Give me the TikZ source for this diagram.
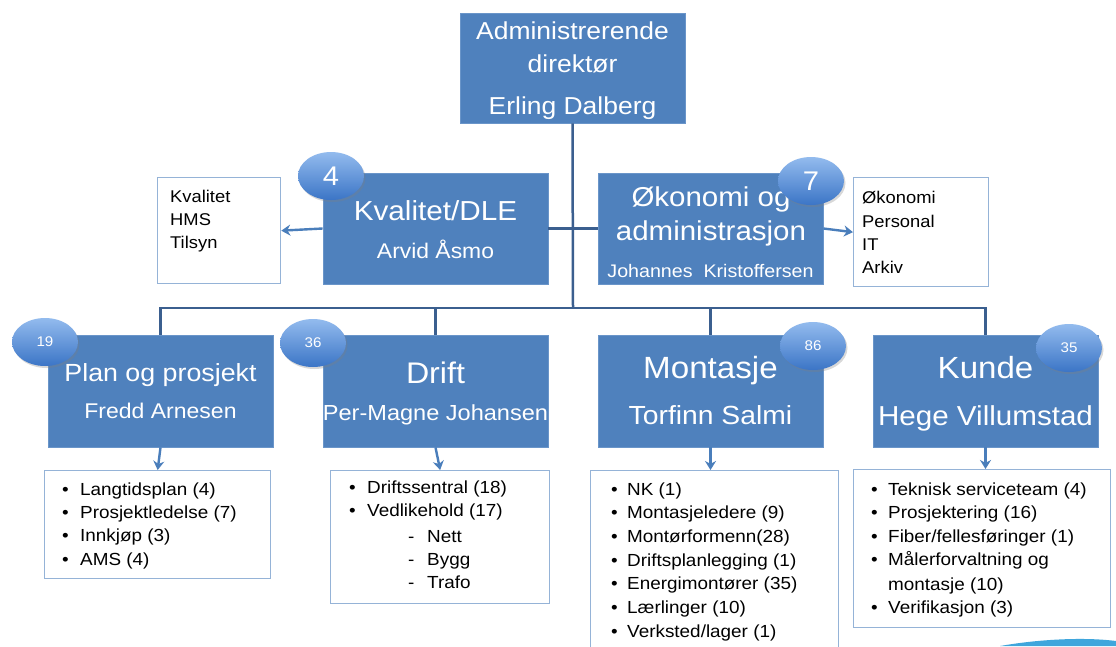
\documentclass[tikz,border=0pt]{standalone}
\usepackage{fontspec}
\setmainfont{Liberation Sans}[FakeStretch=1.08]
\usetikzlibrary{arrows.meta,shadows,shapes.geometric,calc}
\definecolor{boxblue}{HTML}{4F81BD}
\definecolor{boxedge}{HTML}{6A95C9}
\definecolor{linedark}{HTML}{3B5F8F}
\definecolor{arrowblue}{HTML}{4A7EBB}
\definecolor{listedge}{HTML}{95B3D7}
\definecolor{balltop}{HTML}{93BBEE}
\definecolor{ballbot}{HTML}{3B75C6}
\definecolor{swoosh}{HTML}{3FA6DC}
\newcommand\fs[1]{\fontsize{#1}{#1}\selectfont}
\begin{document}
\begin{tikzpicture}[x=1pt,y=-1pt,
  orgbox/.style={draw=boxedge,line width=0.8pt,fill=boxblue,minimum width=225pt,minimum height=111pt,inner sep=0pt},
  wt/.style={text=white,inner sep=0pt,anchor=base},
  bt/.style={text=black,inner sep=0pt,anchor=base west,font=\fs{17.5}},
  smt/.style={text=black,inner sep=0pt,anchor=base west,font=\fs{17}},
  listbox/.style={draw=listedge,line width=1.3pt,fill=white,inner sep=0pt,anchor=north west},
  ball/.style={ellipse,minimum width=66pt,minimum height=48pt,inner sep=0pt,top color=balltop,bottom color=ballbot,draw=none,text=white,drop shadow={opacity=0.3,shadow xshift=1.5pt,shadow yshift=-2pt}},
  conn/.style={draw=linedark,line width=2.5pt},
  arr/.style={draw=arrowblue,line width=2.4pt,-{Stealth[length=9pt,width=11pt]}},
]
\useasboundingbox (0,0) rectangle (1116,646);
\fill[white] (0,0) rectangle (1116,646);

% coordinates of bus
\coordinate (busM) at (573,308);

% boxes
\node[orgbox,minimum width=225pt,minimum height=110pt] (top) at (572.5,68) {};
\node[orgbox] (kval) at (435.5,228.5) {};
\node[orgbox] (oko) at (710.5,228.5) {};
\node[orgbox,minimum height=112pt] (plan) at (160.5,391) {};
\node[orgbox,minimum height=112pt] (drift) at (435.5,391) {};
\node[orgbox,minimum height=112pt] (mont) at (710.5,391) {};
\node[orgbox,minimum height=112pt] (kunde) at (985.5,391) {};

% connectors
\draw[conn] (top.south) -- (busM);
\draw[conn] (kval.east) -- (oko.west);
\draw[conn] (plan.north) |- (busM) -| (kunde.north);
\draw[conn] (drift.north) -- (drift.north |- busM);
\draw[conn] (mont.north) -- (mont.north |- busM);

% side lists
\node[listbox,minimum width=123pt,minimum height=106pt] (kvlist) at (157,177) {};
\node[listbox,minimum width=135pt,minimum height=109pt] (okolist) at (853,177) {};
\draw[arr] (kval.west) -- (kvlist.east);
\draw[arr] (oko.east) -- (okolist.west);

% lower lists
\node[listbox,minimum width=226pt,minimum height=108pt] (pllist) at (44,470) {};
\node[listbox,minimum width=219pt,minimum height=133pt] (drlist) at (330,470) {};
\node[listbox,minimum width=248pt,minimum height=200pt] (molist) at (590,470) {};
\node[listbox,minimum width=257pt,minimum height=158pt] (kulist) at (853,469) {};
\draw[arr] (plan.south) -- (pllist.north);
\draw[arr] (drift.south) -- (drlist.north);
\draw[arr] (mont.south) -- (mont.south |- molist.north);
\draw[arr] (kunde.south) -- (kunde.south |- kulist.north);

% box texts
\node[wt,font=\fs{24.5}] (t1) at (572.5,39) {Administrerende};
\node[wt,font=\fs{24.5}] (t2) at (572.5,72) {direktør};
\node[wt,font=\fs{24.5}] (t3) at (572.5,114) {Erling Dalberg};

\node[wt,font=\fs{27.5}] (k1) at (435.5,220) {Kvalitet/DLE};
\node[wt,font=\fs{21.2}] (k2) at (435.5,258) {Arvid Åsmo};

\node[wt,font=\fs{27.3}] (o1) at (711,206) {Økonomi og};
\node[wt,font=\fs{27.3}] (o2) at (711,240) {administrasjon};
\node[wt,font=\fs{18.2}] (o3) at (710.5,277) {Johannes\ \ Kristoffersen};

\node[wt,font=\fs{24.8}] (p1) at (160.5,381) {Plan og prosjekt};
\node[wt,font=\fs{21.3}] (p2) at (160.5,418) {Fredd Arnesen};
\node[wt,font=\fs{29.8}] (d1) at (435.5,383) {Drift};
\node[wt,font=\fs{21.8}] (d2) at (435.5,420) {Per-Magne Johansen};
\node[wt,font=\fs{30.7}] (m1) at (710.5,378) {Montasje};
\node[wt,font=\fs{26.2}] (m2) at (710.5,424) {Torfinn Salmi};
\node[wt,font=\fs{30.6}] (u1) at (985.5,378) {Kunde};
\node[wt,font=\fs{27.4}] (u2) at (985.5,425) {Hege Villumstad};

% number balls
\node[ball,font=\fs{27}] (b4) at (331,176) {4};
\node[ball,font=\fs{27}] (b7) at (811,181) {7};
\node[ball,font=\fs{14}] (b19) at (45,342) {19};
\node[ball,font=\fs{14}] (b36) at (313,343) {36};
\node[ball,font=\fs{14}] (b86) at (813,346) {86};
\node[ball,font=\fs{14}] (b35) at (1069,348) {35};

% side list texts
\node[smt] (s1) at (170,202) {Kvalitet};
\node[smt] (s2) at (170,225) {HMS};
\node[smt] (s3) at (170,248) {Tilsyn};
\node[smt] (r1) at (862,203) {Økonomi};
\node[smt] (r2) at (862,227) {Personal};
\node[smt] (r3) at (862,250) {IT};
\node[smt] (r4) at (862,273) {Arkiv};

% lower list texts
\foreach \t [count=\i] in {Langtidsplan (4),Prosjektledelse (7),Innkjøp (3),AMS (4)}
  \node[bt] (pl\i) at (62,{495+23.4*(\i-1)}) {\makebox[18pt][l]{\textbullet}\t};
\foreach \t [count=\i] in {Driftssentral (18),Vedlikehold (17)}
  \node[bt] (dl\i) at (349,{493+23.8*(\i-1)}) {\makebox[18pt][l]{\textbullet}\t};
\foreach \t [count=\i] in {Nett,Bygg,Trafo}
  \node[bt] (ds\i) at (408,{542+23.2*(\i-1)}) {\makebox[19pt][l]{-}\t};
\foreach \t [count=\i] in {NK (1),Montasjeledere (9),Montørformenn(28),Driftsplanlegging (1),Energimontører (35),Lærlinger (10),Verksted/lager (1)}
  \node[bt] (ml\i) at (611,{495+23.7*(\i-1)}) {\makebox[16pt][l]{\textbullet}\t};
\foreach \t [count=\i] in {Teknisk serviceteam (4),Prosjektering (16),Fiber/fellesføringer (1),Målerforvaltning og}
  \node[bt] (kl\i) at (871,{495+23.6*(\i-1)}) {\makebox[17pt][l]{\textbullet}\t};
\node[bt] (kl5) at (888,590) {montasje (10)};
\node[bt] (kl6) at (871,613) {\makebox[17pt][l]{\textbullet}Verifikasjon (3)};

% decorative swoosh
\fill[swoosh] (1000,646) .. controls (1040,639) and (1085,637) .. (1116,641) -- (1116,646) -- cycle;
\end{tikzpicture}
\end{document}
